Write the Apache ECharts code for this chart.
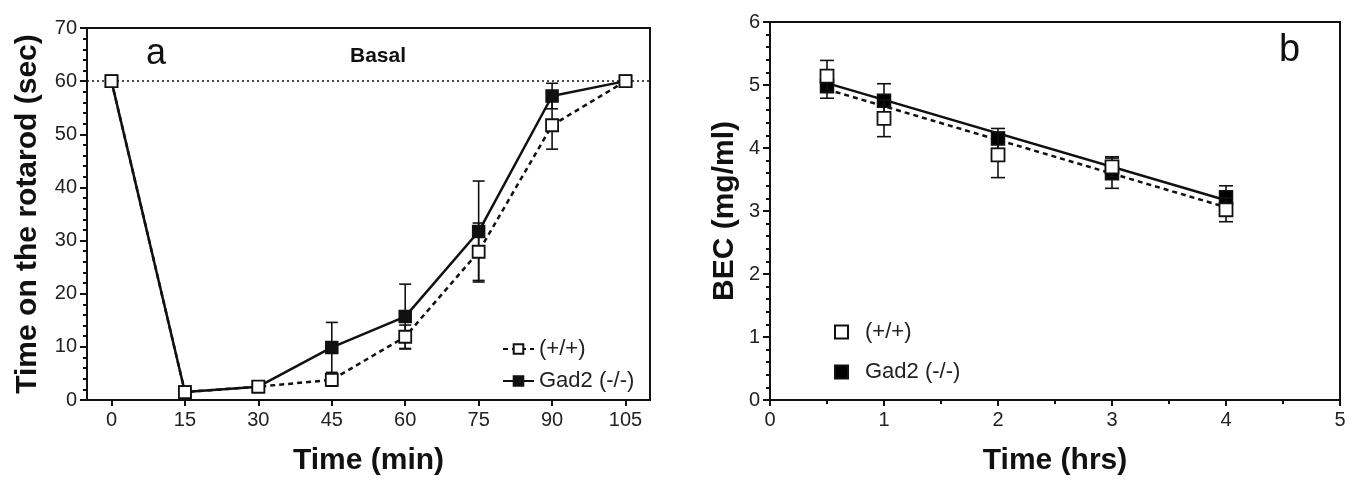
<!DOCTYPE html>
<html>
<head>
<meta charset="utf-8">
<script src="https://cdn.jsdelivr.net/npm/echarts@6/dist/echarts.min.js"></script>
<style>
html,body{margin:0;padding:0;background:#fff;}
#c{width:1360px;height:481px;}
</style>
</head>
<body>
<div id="c"></div>
<script>
// ---- Panel a data ----
const aTime = [0, 15, 30, 45, 60, 75, 90, 105];
const aXTicks = [0, 15, 30, 45, 60, 75, 90, 105];
const aWT = [60, 1.5, 2.5, 3.8, 11.9, 27.9, 51.7, 60];
const aWTerr = [0, 0, 0, 1.2, 2.2, 5.4, 4.5, 0];
const aKO = [60, 1.5, 2.5, 9.9, 15.7, 31.7, 57.2, 60];
const aKOerr = [0, 0, 0, 4.7, 6.1, 9.5, 2.4, 0];
const basalLevel = 60;

// ---- Panel b data ----
const bTime = [0.5, 1, 2, 3, 4];
const bWT = [5.14, 4.47, 3.89, 3.70, 3.02];
const bWTerr = [0.25, 0.29, 0.36, 0.16, 0.19];
const bKO = [4.98, 4.75, 4.15, 3.60, 3.22];
const bKOerr = [0.19, 0.27, 0.16, 0.24, 0.18];
const bFitTime = [0.5, 4];
const bFitWT = [4.93, 3.06];
const bFitKO = [5.03, 3.17];

const nameWT = '(+/+)';
const nameKO = 'Gad2 (-/-)';

const FONT = 'Liberation Sans, Arial, Helvetica, sans-serif';
const INK = '#111';

function pairs(xs, ys) { return xs.map((x, i) => [x, ys[i]]); }
function triples(xs, ys, es) { return xs.map((x, i) => [x, ys[i], es[i]]); }

function errRender(capHalf) {
  return function (params, api) {
    const x = api.value(0), y = api.value(1), e = api.value(2);
    if (!e) return null;
    const t = api.coord([x, y + e]);
    const b = api.coord([x, y - e]);
    const st = { stroke: INK, lineWidth: 1.6 };
    return {
      type: 'group',
      children: [
        { type: 'line', shape: { x1: t[0], y1: t[1], x2: b[0], y2: b[1] }, style: st },
        { type: 'line', shape: { x1: t[0] - capHalf, y1: t[1], x2: t[0] + capHalf, y2: t[1] }, style: st },
        { type: 'line', shape: { x1: b[0] - capHalf, y1: b[1], x2: b[0] + capHalf, y2: b[1] }, style: st }
      ]
    };
  };
}

const axisLineStyle = { color: INK, width: 2 };
const tickLabel = { color: '#222', fontSize: 20, fontFamily: FONT };
const axisName = { color: INK, fontSize: 30, fontWeight: 'bold', fontFamily: FONT };

const chart = echarts.init(document.getElementById('c'), null, { renderer: 'canvas' });

chart.setOption({
  backgroundColor: '#fff',
  animation: false,
  grid: [
    { left: 87, top: 28, width: 563, height: 372, show: true, borderColor: INK, borderWidth: 2, backgroundColor: 'transparent' },
    { left: 770, top: 22, width: 570, height: 378, show: true, borderColor: INK, borderWidth: 2, backgroundColor: 'transparent' }
  ],
  xAxis: [
    {
      gridIndex: 0, type: 'value', min: -5, max: 110,
      name: 'Time (min)', nameLocation: 'middle', nameGap: 46, nameTextStyle: axisName,
      axisLine: { onZero: false, lineStyle: axisLineStyle },
      axisTick: { show: true, length: 6, lineStyle: { color: INK, width: 2 }, customValues: aXTicks },
      axisLabel: { ...tickLabel, margin: 10, customValues: aXTicks },
      splitLine: { show: false }
    },
    {
      gridIndex: 1, type: 'value', min: 0, max: 5, interval: 1,
      name: 'Time (hrs)', nameLocation: 'middle', nameGap: 46, nameTextStyle: axisName,
      axisLine: { onZero: false, lineStyle: axisLineStyle },
      axisTick: { show: true, length: 6, lineStyle: { color: INK, width: 2 } },
      minorTick: { show: true, splitNumber: 2, length: 4, lineStyle: { color: INK, width: 2 } },
      axisLabel: { ...tickLabel, margin: 10 },
      splitLine: { show: false }
    }
  ],
  yAxis: [
    {
      gridIndex: 0, type: 'value', min: 0, max: 70, interval: 10,
      name: 'Time on the rotarod (sec)', nameLocation: 'middle', nameGap: 44, nameTextStyle: axisName,
      axisLine: { onZero: false, lineStyle: axisLineStyle },
      axisTick: { show: true, length: 7, lineStyle: { color: INK, width: 2 } },
      minorTick: { show: true, splitNumber: 5, length: 4, lineStyle: { color: INK, width: 2 } },
      axisLabel: { ...tickLabel, margin: 10 },
      splitLine: { show: false }
    },
    {
      gridIndex: 1, type: 'value', min: 0, max: 6, interval: 1,
      name: 'BEC (mg/ml)', nameLocation: 'middle', nameGap: 30, nameTextStyle: axisName,
      axisLine: { onZero: false, lineStyle: axisLineStyle },
      axisTick: { show: true, length: 7, lineStyle: { color: INK, width: 2 } },
      minorTick: { show: true, splitNumber: 5, length: 4, lineStyle: { color: INK, width: 2 } },
      axisLabel: { ...tickLabel, margin: 10 },
      splitLine: { show: false }
    }
  ],
  legend: [
    {
      orient: 'vertical', left: 497, top: 333, itemGap: 10,
      itemWidth: 31, itemHeight: 12,
      data: [nameWT, nameKO],
      textStyle: { color: '#222', fontSize: 22, fontFamily: FONT },
      selectedMode: false
    },
    {
      orient: 'vertical', left: 829, top: 316, itemGap: 18,
      itemWidth: 13, itemHeight: 13,
      data: [nameWT + ' ', nameKO + ' '],
      formatter: n => n.trim(),
      textStyle: { color: '#222', fontSize: 22, fontFamily: FONT, padding: [0, 0, 0, 12] },
      selectedMode: false
    }
  ],
  graphic: [
    { type: 'text', left: 146, top: 36, style: { text: 'a', font: '36px ' + FONT, fill: INK } },
    { type: 'text', left: 350, top: 46, style: { text: 'Basal', font: 'bold 21px ' + FONT, fill: INK } },
    { type: 'text', left: 1279, top: 32, style: { text: 'b', font: '38px ' + FONT, fill: INK } }
  ],
  series: [
    // ---------- panel a ----------
    {
      type: 'custom', xAxisIndex: 0, yAxisIndex: 0, z: 2,
      renderItem: errRender(6), data: triples(aTime, aKO, aKOerr), silent: true
    },
    {
      name: nameKO, type: 'line', xAxisIndex: 0, yAxisIndex: 0, z: 3,
      data: pairs(aTime, aKO),
      symbol: 'rect', symbolSize: 12,
      lineStyle: { color: INK, width: 2.5, type: 'solid' },
      itemStyle: { color: INK, borderColor: INK, borderWidth: 1.5, opacity: 1 }
    },
    {
      type: 'custom', xAxisIndex: 0, yAxisIndex: 0, z: 4,
      renderItem: errRender(6), data: triples(aTime, aWT, aWTerr), silent: true
    },
    {
      name: nameWT, type: 'line', xAxisIndex: 0, yAxisIndex: 0, z: 5,
      data: pairs(aTime, aWT),
      symbol: 'rect', symbolSize: 12,
      lineStyle: { color: INK, width: 2.5, type: [5, 4] },
      itemStyle: { color: '#fff', borderColor: INK, borderWidth: 1.8, opacity: 1 },
      markLine: {
        silent: true, symbol: 'none', label: { show: false },
        lineStyle: { color: INK, width: 1.5, type: [2, 3] },
        data: [{ yAxis: basalLevel }]
      }
    },
    // ---------- panel b ----------
    {
      type: 'line', xAxisIndex: 1, yAxisIndex: 1, z: 2,
      data: pairs(bFitTime, bFitKO), symbol: 'none',
      lineStyle: { color: INK, width: 2.5, type: 'solid' }
    },
    {
      type: 'line', xAxisIndex: 1, yAxisIndex: 1, z: 2,
      data: pairs(bFitTime, bFitWT), symbol: 'none',
      lineStyle: { color: INK, width: 2.5, type: [5, 4] }
    },
    {
      type: 'custom', xAxisIndex: 1, yAxisIndex: 1, z: 3,
      renderItem: errRender(7), data: triples(bTime, bKO, bKOerr), silent: true
    },
    {
      name: nameKO + ' ', type: 'scatter', xAxisIndex: 1, yAxisIndex: 1, z: 4,
      data: pairs(bTime, bKO), symbol: 'rect', symbolSize: 13,
      itemStyle: { color: '#000', borderColor: INK, borderWidth: 1.5, opacity: 1 }
    },
    {
      type: 'custom', xAxisIndex: 1, yAxisIndex: 1, z: 5,
      renderItem: errRender(7), data: triples(bTime, bWT, bWTerr), silent: true
    },
    {
      name: nameWT + ' ', type: 'scatter', xAxisIndex: 1, yAxisIndex: 1, z: 6,
      data: pairs(bTime, bWT), symbol: 'rect', symbolSize: 13,
      itemStyle: { color: '#fff', borderColor: INK, borderWidth: 1.8, opacity: 1 }
    }
  ]
});
</script>
</body>
</html>
